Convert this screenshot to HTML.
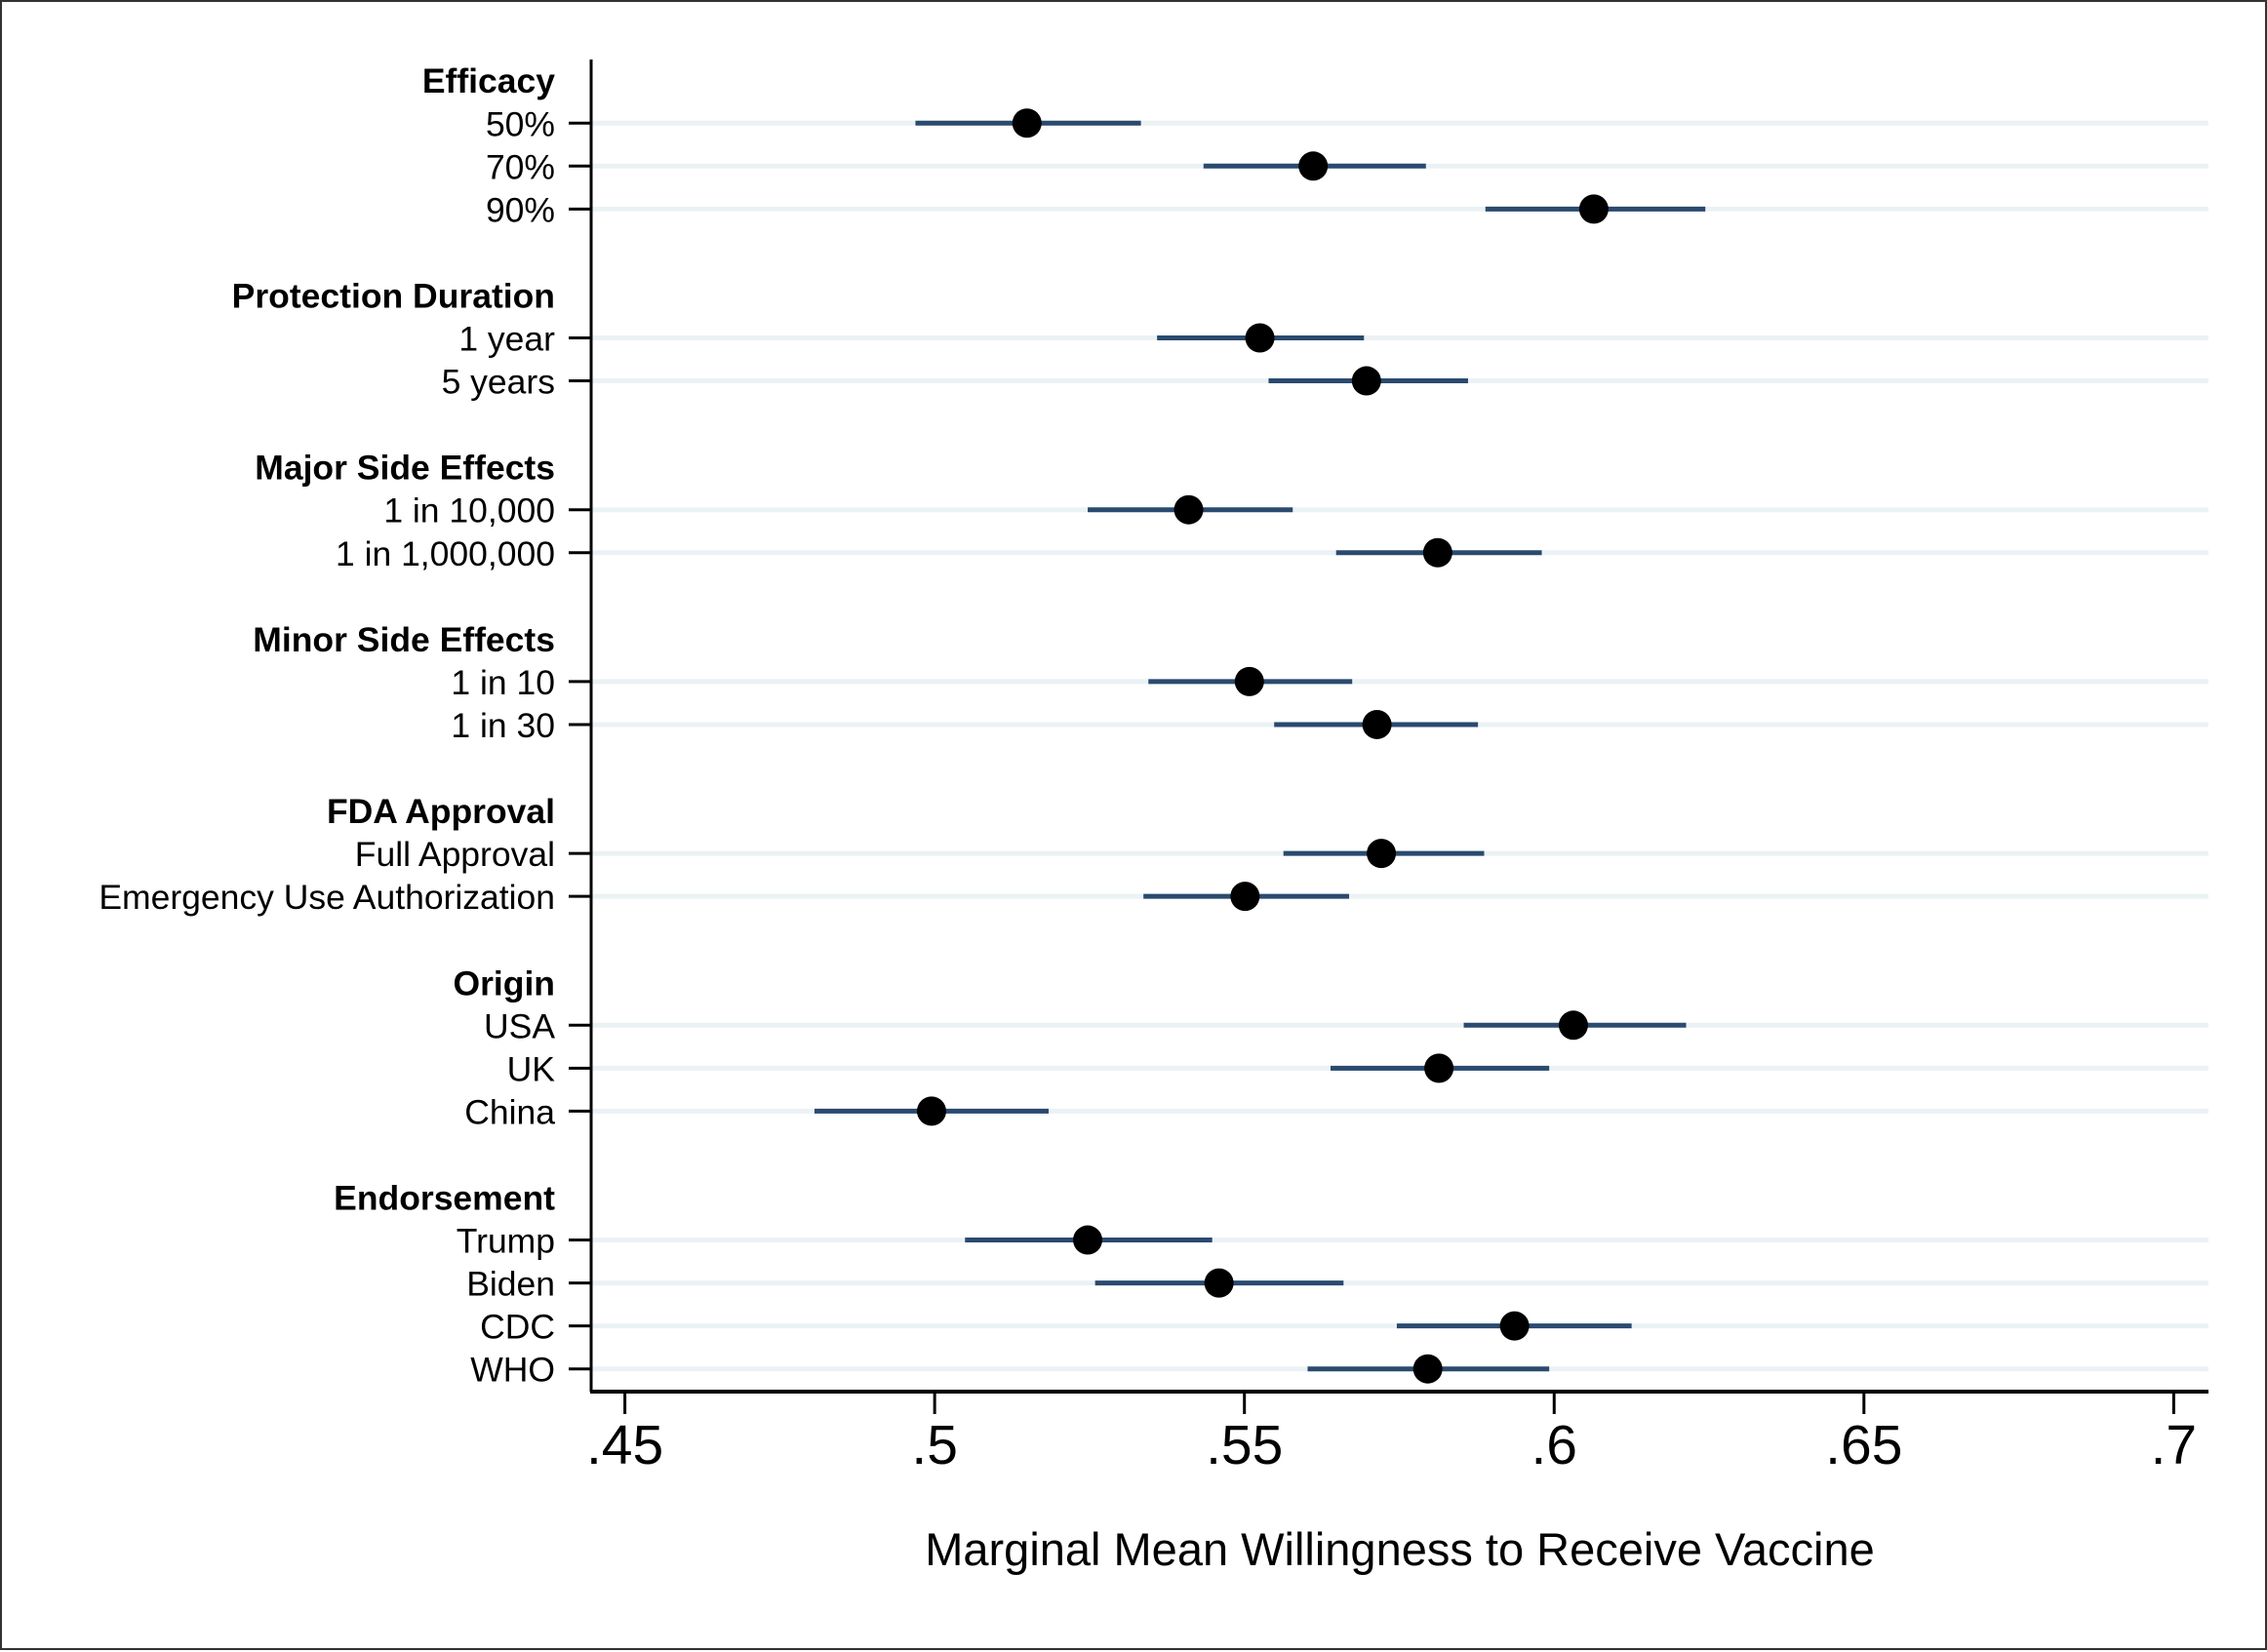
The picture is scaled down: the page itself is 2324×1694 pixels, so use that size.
<!DOCTYPE html>
<html><head><meta charset="utf-8"><style>
html,body{margin:0;padding:0;background:#fff}
#wrap{position:relative;width:2324px;height:1692px;box-sizing:border-box;border:2px solid #333;background:#fff}
svg{position:absolute;left:0;top:0}
text{font-family:"Liberation Sans",Arial,sans-serif;fill:#000}
</style></head><body>
<div id="wrap">
<svg id="chart" width="2324" height="1692"></svg>
</div>
<script>
const rowLabels = ["Efficacy","50%","70%","90%","","Protection Duration","1 year","5 years","","Major Side Effects","1 in 10,000","1 in 1,000,000","","Minor Side Effects","1 in 10","1 in 30","","FDA Approval","Full Approval","Emergency Use Authorization","","Origin","USA","UK","China","","Endorsement","Trump","Biden","CDC","WHO"];
const rowIsHeader = [1,0,0,0,0,1,0,0,0,1,0,0,0,1,0,0,0,1,0,0,0,1,0,0,0,0,1,0,0,0,0];
const estimates = [null,.5149,.5611,.6064,null,null,.5525,.5697,null,null,.5410,.5812,null,null,.5508,.5714,null,null,.5721,.5501,null,null,.6031,.5814,.4995,null,null,.5247,.5459,.5936,.5796];
const ciLow = [null,.4969,.5434,.5889,null,null,.5359,.5539,null,null,.5247,.5648,null,null,.5345,.5548,null,null,.5563,.5337,null,null,.5854,.5639,.4806,null,null,.5049,.5259,.5746,.5602];
const ciHigh = [null,.5333,.5793,.6244,null,null,.5693,.5861,null,null,.5578,.5980,null,null,.5674,.5877,null,null,.5887,.5669,null,null,.6213,.5992,.5184,null,null,.5448,.5660,.6125,.5992];
const xTicks = [.45,.5,.55,.6,.65,.7];
const xTickLabels = [".45",".5",".55",".6",".65",".7"];

const NS="http://www.w3.org/2000/svg";
const svg=document.getElementById('chart');
const L=604,R=2262,T=59,B=1425;
const x=v=>638.6+(v-.45)*6351;
const y=i=>80.2+i*44.05;
function mk(t,a,p){const e=document.createElementNS(NS,t);for(const k in a)e.setAttribute(k,a[k]);(p||svg).appendChild(e);return e;}

rowLabels.forEach((lab,i)=>{
  if(lab==="")return;
  const lbl=mk('text',{x:567,y:y(i)+13,'text-anchor':'end','font-size':35.5,'font-weight':rowIsHeader[i]?'bold':'normal'});
  lbl.textContent=lab;
  
  
  if(rowIsHeader[i])return;
  const g=mk('line',{x1:L,x2:R,y1:y(i),y2:y(i),stroke:'#ebf2f4','stroke-width':5});
  
  
  const tk=mk('line',{x1:581,x2:L,y1:y(i),y2:y(i),stroke:'#000','stroke-width':3});
  
  
});
rowLabels.forEach((lab,i)=>{
  if(estimates[i]==null)return;
  const ci=mk('line',{x1:x(ciLow[i]),x2:x(ciHigh[i]),y1:y(i),y2:y(i),stroke:'#2a4a6f','stroke-width':5});
  
  
  const d=mk('circle',{cx:x(estimates[i]),cy:y(i),r:15,fill:'#000'});
  
  
});
const ya=mk('line',{x1:L,x2:L,y1:T,y2:B,stroke:'#000','stroke-width':3});


const xa=mk('line',{x1:L-1,x2:R,y1:B,y2:B,stroke:'#000','stroke-width':4});


xTicks.forEach((v,i)=>{
  const t=mk('line',{x1:x(v),x2:x(v),y1:B,y2:1448,stroke:'#000','stroke-width':3});
  
  
  const tl=mk('text',{x:x(v),y:1499,'text-anchor':'middle','font-size':57});
  tl.textContent=xTickLabels[i];
  
  
});
const tt=mk('text',{x:1433,y:1603,'text-anchor':'middle','font-size':47});
tt.textContent="Marginal Mean Willingness to Receive Vaccine";


</script>
</body></html>
